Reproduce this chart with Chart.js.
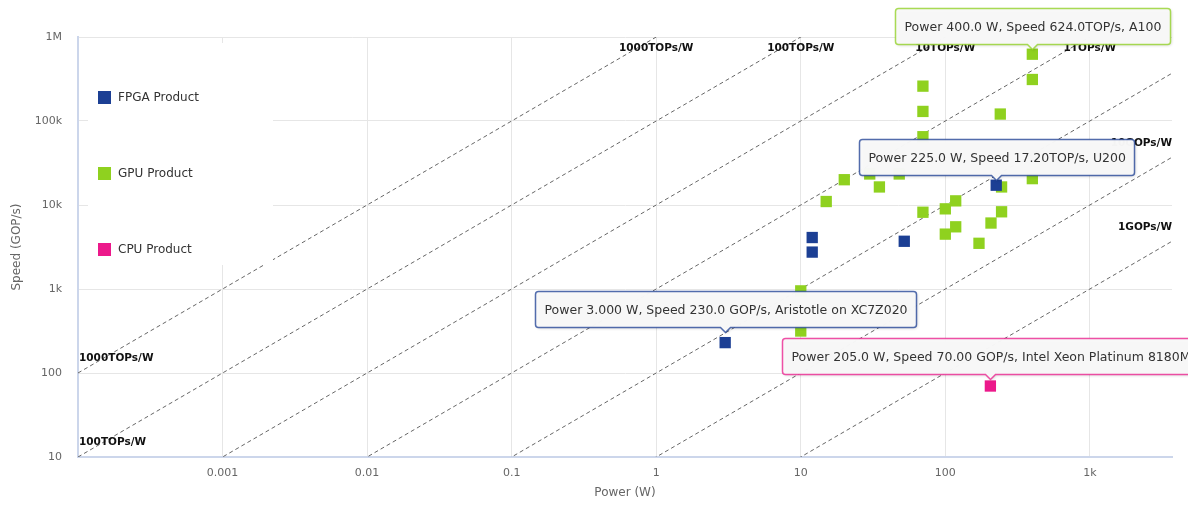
<!DOCTYPE html>
<html>
<head>
<meta charset="utf-8">
<script src="https://cdn.jsdelivr.net/npm/chart.js@4.4.1/dist/chart.umd.min.js"></script>
<style>
  html, body { margin: 0; padding: 0; background: #fff; }
  #wrap { width: 1188px; height: 508px; }
</style>
</head>
<body>
<div id="wrap"><canvas id="chart" width="1188" height="508"></canvas></div>
<script>
// values (power in W, speed in GOP/s)
const fpgaPower = [12, 12, 52, 225, 3];
const fpgaSpeed = [4100, 2750, 3700, 17200, 230];

const gpuPower = [400, 400, 70, 70, 70, 70, 240, 245, 245, 207, 171, 400, 20, 15, 35, 30, 48, 100, 118, 100, 118, 10, 10];
const gpuSpeed = [624000, 312000, 260000, 130000, 65000, 8200, 121000, 16400, 8300, 6100, 3500, 20600, 20000, 11000, 16400, 23400, 23400, 9000, 11200, 4500, 5500, 950, 316];

const cpuPower = [205];
const cpuSpeed = [70];

const seriesNames = ['FPGA Product', 'GPU Product', 'CPU Product'];
const seriesColors = ['#1c3f94', '#8fd11f', '#ec198b'];

// efficiency guide lines (GOP/s per W)
const effValues = [1e6, 1e5, 1e4, 1e3, 100, 10, 1];
const effNames = ['1000TOPs/W', '100TOPs/W', '10TOPs/W', '1TOPs/W', '100GOPs/W', '10GOPs/W', '1GOPs/W'];

const xTickValues = [1e-4, 1e-3, 1e-2, 0.1, 1, 10, 100, 1000];
const xTickLabels = ['', '0.001', '0.01', '0.1', '1', '10', '100', '1k'];
const yTickValues = [10, 100, 1e3, 1e4, 1e5, 1e6];
const yTickLabels = ['10', '100', '1k', '10k', '100k', '1M'];

const xMin = 1e-4, xMax = 3700, yMin = 10, yMax = 1e6;

// hover boxes visible in the picture
const callouts = [
  { series: 1, index: 0, name: 'A100', lift: 10 },
  { series: 0, index: 3, name: 'U200', lift: 10 },
  { series: 0, index: 4, name: 'Aristotle on XC7Z020', lift: 16 },
  { series: 2, index: 0, name: 'Intel Xeon Platinum 8180M', lift: 12 }
];

const FONT = '"DejaVu Sans", sans-serif';

function pts(xs, ys) {
  return xs.map((x, i) => ({ x: x, y: ys[i] }));
}

const pointSets = [pts(fpgaPower, fpgaSpeed), pts(gpuPower, gpuSpeed), pts(cpuPower, cpuSpeed)];

const datasets = pointSets.map((d, i) => ({
  type: 'scatter',
  label: seriesNames[i],
  data: d,
  order: 0,
  pointStyle: 'rect',
  pointRadius: 8,
  pointBorderWidth: 0,
  backgroundColor: seriesColors[i],
  borderColor: seriesColors[i]
}));

effValues.forEach((e, i) => {
  datasets.push({
    type: 'line',
    label: effNames[i],
    data: [{ x: xMin, y: e * xMin }, { x: xMax, y: e * xMax }],
    order: 1,
    borderColor: '#666',
    borderWidth: 1,
    borderDash: [4, 3],
    pointRadius: 0,
    fill: false
  });
});

function roundBox(ctx, l, t, r, b, rad, px, k) {
  ctx.beginPath();
  ctx.moveTo(l + rad, t);
  ctx.lineTo(r - rad, t);
  ctx.arcTo(r, t, r, t + rad, rad);
  ctx.lineTo(r, b - rad);
  ctx.arcTo(r, b, r - rad, b, rad);
  ctx.lineTo(px + k, b);
  ctx.lineTo(px, b + k);
  ctx.lineTo(px - k, b);
  ctx.lineTo(l + rad, b);
  ctx.arcTo(l, b, l, b - rad, rad);
  ctx.lineTo(l, t + rad);
  ctx.arcTo(l, t, l + rad, t, rad);
  ctx.closePath();
}

const extras = {
  id: 'extras',
  beforeDatasetDraw(chart, args) {
    // runs once, after the guide lines and before the product markers
    if (args.index !== 2) return;
    const ctx = chart.ctx, a = chart.chartArea;
    const xs = chart.scales.x, ys = chart.scales.y;
    ctx.save();

    // legend block
    ctx.fillStyle = '#fff';
    ctx.fillRect(a.left + 10, a.top + 6, 185, 222);
    ctx.font = '12px ' + FONT;
    ctx.textAlign = 'left';
    ctx.textBaseline = 'middle';
    seriesNames.forEach((n, i) => {
      const y = a.top + 60 + i * 76;
      ctx.fillStyle = seriesColors[i];
      ctx.fillRect(a.left + 20, y - 6, 13, 13);
      ctx.fillStyle = '#333';
      ctx.fillText(n, a.left + 40, y + 1);
    });

    // labels at the ends of the guide lines, hidden when they collide
    ctx.font = 'bold 10.5px ' + FONT;
    ctx.fillStyle = '#111';
    ctx.textAlign = 'center';
    const boxes = [];
    effValues.forEach((e, i) => {
      const ends = [];
      if (e * xMin >= yMin) ends.push([xMin, e * xMin]);
      const xEnd = Math.min(xMax, yMax / e);
      ends.push([xEnd, e * xEnd]);
      ends.forEach(([vx, vy]) => {
        const w = ctx.measureText(effNames[i]).width, h = 14;
        let cx = xs.getPixelForValue(vx);
        let cy = ys.getPixelForValue(vy) - 14.5;
        cx = Math.max(a.left + w / 2 + 1, Math.min(a.right - w / 2, cx));
        cy = Math.max(a.top + h / 2 + 4, cy);
        const r = { l: cx - w / 2, r: cx + w / 2, t: cy - h / 2, b: cy + h / 2 };
        if (boxes.some(o => r.l < o.r && r.r > o.l && r.t < o.b && r.b > o.t)) return;
        boxes.push(r);
        ctx.fillText(effNames[i], cx, cy);
      });
    });
    ctx.restore();
  },
  afterDraw(chart) {
    const ctx = chart.ctx;
    const xs = chart.scales.x, ys = chart.scales.y;
    callouts.forEach(c => {
      const pt = chart.data.datasets[c.series].data[c.index];
      const px = Math.round(xs.getPixelForValue(pt.x)) + 0.5;
      const py = ys.getPixelForValue(pt.y);
      const sp = pt.y >= 1000 ? (pt.y / 1000).toPrecision(4) + 'TOP/s' : pt.y.toPrecision(4) + ' GOP/s';
      const text = 'Power ' + pt.x.toPrecision(4) + ' W, Speed ' + sp + ', ' + c.name;
      ctx.save();
      ctx.font = '12.5px ' + FONT;
      const w = Math.round(ctx.measureText(text).width + 18), h = 36;
      const l = Math.round(px - w / 2) + 0.5;
      const b = Math.round(py - c.lift) + 0.5;
      const t = b - h, r = l + w;
      roundBox(ctx, l, t, r, b, 3, px, 5);
      ctx.shadowColor = 'rgba(0,0,0,0.18)';
      ctx.shadowOffsetX = 1;
      ctx.shadowOffsetY = 1;
      ctx.shadowBlur = 3;
      ctx.fillStyle = 'rgba(248,248,248,0.98)';
      ctx.fill();
      ctx.shadowColor = 'transparent';
      ctx.lineWidth = 1.5;
      ctx.strokeStyle = seriesColors[c.series];
      ctx.globalAlpha = 0.75;
      ctx.stroke();
      ctx.globalAlpha = 1;
      ctx.fillStyle = '#333';
      ctx.textAlign = 'left';
      ctx.textBaseline = 'middle';
      ctx.fillText(text, l + 9, t + h / 2 + 1);
      ctx.restore();
    });
  }
};

new Chart(document.getElementById('chart'), {
  type: 'scatter',
  data: { datasets: datasets },
  options: {
    responsive: false,
    animation: false,
    events: [],
    layout: { padding: { left: 0, right: 16, top: 37, bottom: 0 } },
    plugins: {
      legend: { display: false },
      tooltip: { enabled: false }
    },
    scales: {
      x: {
        type: 'logarithmic',
        min: xMin,
        max: xMax,
        afterBuildTicks: s => { s.ticks = xTickValues.map(v => ({ value: v })); },
        afterFit: s => { s.height = 51; },
        grid: { color: '#e6e6e6', drawTicks: false },
        border: { color: '#ccd6eb', width: 2 },
        ticks: {
          autoSkip: false,
          maxRotation: 0,
          padding: 10,
          color: '#666',
          font: { family: FONT, size: 11 },
          callback: (v, i) => xTickLabels[i]
        },
        title: {
          display: true,
          text: 'Power (W)',
          color: '#666',
          font: { family: FONT, size: 12 },
          padding: { top: 0, bottom: 8 }
        }
      },
      y: {
        type: 'logarithmic',
        min: yMin,
        max: yMax,
        afterBuildTicks: s => { s.ticks = yTickValues.map(v => ({ value: v })); },
        afterFit: s => { s.width = 78; },
        grid: { color: '#e6e6e6', drawTicks: false },
        border: { color: '#ccd6eb', width: 2 },
        ticks: {
          autoSkip: false,
          padding: 16,
          color: '#666',
          font: { family: FONT, size: 11 },
          callback: (v, i) => yTickLabels[i]
        },
        title: {
          display: true,
          text: 'Speed (GOP/s)',
          color: '#666',
          font: { family: FONT, size: 12 },
          padding: { top: 10, bottom: 0 }
        }
      }
    }
  },
  plugins: [extras]
});
</script>
</body>
</html>
